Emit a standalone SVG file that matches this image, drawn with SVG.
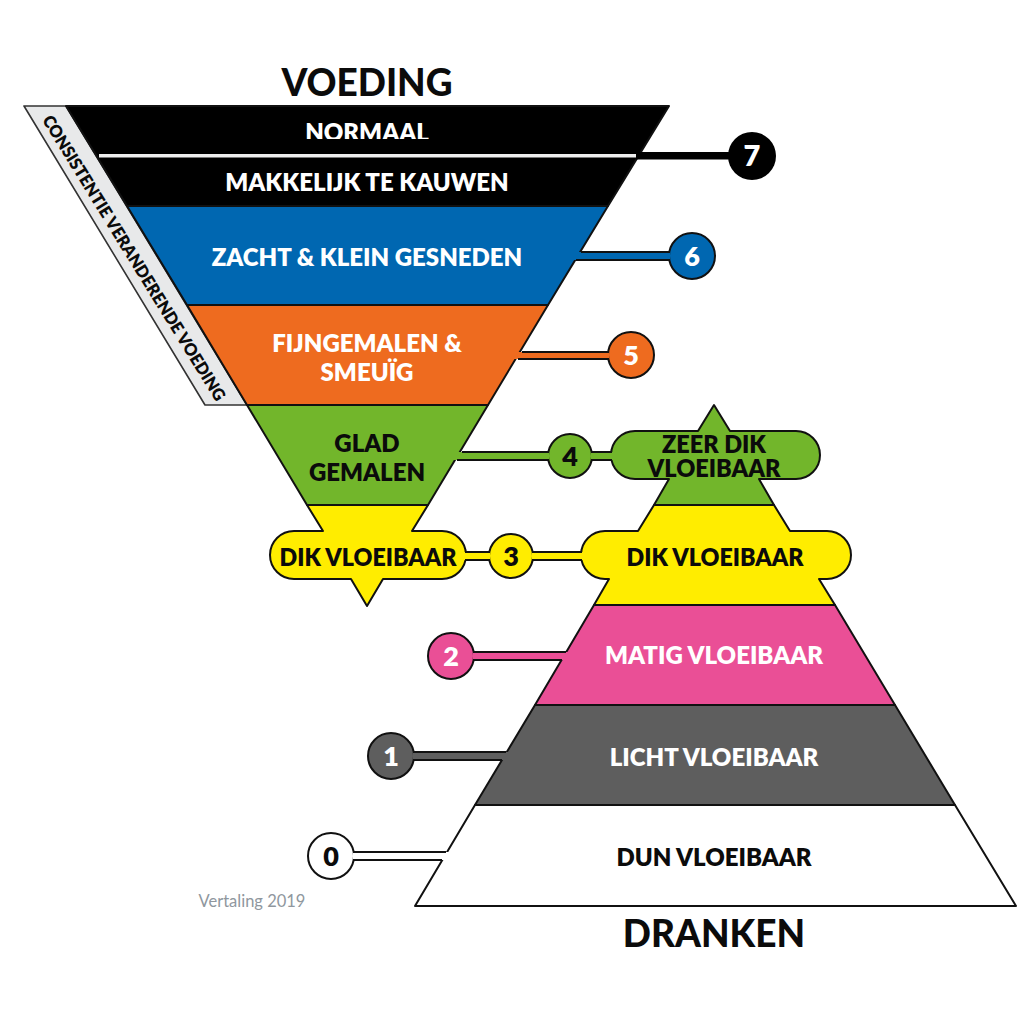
<svg xmlns="http://www.w3.org/2000/svg" width="1024" height="1024" viewBox="0 0 1024 1024">
<style>
text{font-family:Lato,"Noto Sans","Liberation Sans",sans-serif;font-weight:800;text-anchor:middle}
.s{stroke:#111;stroke-width:2;stroke-linejoin:round}
.w{fill:#fff}.k{fill:#0b0b0b}
.t{font-size:24px}
.n{font-size:24px}
.h{font-size:37px;font-weight:900;fill:#0b0b0b}
.c{stroke:#111;stroke-width:2;fill:none}
.blk{fill:#000}.blu{fill:#0067b1}.org{fill:#ee6b1f}.grn{fill:#72b62b}.yel{fill:#ffed00}.pnk{fill:#ea4f96}.gry{fill:#5e5e5e}.wht{fill:#fff}
</style>
<defs><clipPath id="cut"><rect x="250" y="110" width="240" height="29"/></clipPath></defs>
<rect width="1024" height="1024" fill="#fff"/>
<g id="titles">
<text class="h" x="367" y="96">VOEDING</text>
<text class="h" x="714" y="947">DRANKEN</text>
<text x="252" y="907" style="font-size:16.5px;font-weight:400;fill:#8f979e">Vertaling 2019</text>
</g>
<g id="band">
<polygon points="24,106 66,106 247,405 205,405" fill="#e8e9ea" stroke="#333" stroke-width="1.6" stroke-linejoin="round"/>
<text class="k" transform="translate(134,258) rotate(58.3)" y="6" style="font-size:17px" textLength="332" lengthAdjust="spacingAndGlyphs">CONSISTENTIE VERANDERENDE VOEDING</text>
</g>
<g id="level-7">
<polygon class="blk s" points="66,106 669,106 608,206 127,206" stroke="#000"/>
<rect x="99" y="154" width="537" height="3.5" fill="#eee"/>
<text class="w t" x="367" y="140.5" clip-path="url(#cut)">NORMAAL</text>
<text class="w t" x="367" y="191">MAKKELIJK TE KAUWEN</text>
</g>
<g id="level-6">
<polygon class="blu s" points="127,206 608,206 548,305 187,305"/>
<text class="w n" x="367" y="265.500">ZACHT &amp; KLEIN GESNEDEN</text>
</g>
<g id="level-5">
<polygon class="org s" points="187,305 548,305 488,405 247,405"/>
<text class="w t" x="367" y="351.500">FIJNGEMALEN &amp;</text>
<text class="w t" x="367" y="380.500">SMEUÏG</text>
</g>
<g id="level-4-food">
<polygon class="grn s" points="247,405 488,405 428,505 307,505"/>
<text class="k t" x="367" y="451.500">GLAD</text>
<text class="k t" x="367" y="480.500">GEMALEN</text>
</g>
<g id="level-3-food">
<path class="yel s" d="M307,505H428L412,531H442a24,24 0 0 1 24,24a24,24 0 0 1 -24,24H383L367,606L351,579H294a24,24 0 0 1 -24,-24a24,24 0 0 1 24,-24H323Z"/>
<text class="k t" x="368" y="565.500" textLength="177" lengthAdjust="spacingAndGlyphs">DIK VLOEIBAAR</text>
</g>
<g id="level-4-drink">
<path class="grn s" d="M714,405L730,431H796a24,24 0 0 1 24,24a24,24 0 0 1 -24,24H759L774,505H654L669,479H635a24,24 0 0 1 -24,-24a24,24 0 0 1 24,-24H698Z"/>
<text class="k" x="714" y="453" style="font-size:23.5px">ZEER DIK</text>
<text class="k" x="714" y="477" style="font-size:23.5px">VLOEIBAAR</text>
</g>
<g id="level-3-drink">
<path class="yel s" d="M654,505H774L790,531H827a24,24 0 0 1 24,24a24,24 0 0 1 -24,24H819L835,605H594L609,579H605a24,24 0 0 1 -24,-24a24,24 0 0 1 24,-24H638Z"/>
<text class="k t" x="715" y="565.500" textLength="177" lengthAdjust="spacingAndGlyphs">DIK VLOEIBAAR</text>
</g>
<g id="level-2">
<polygon class="pnk s" points="594,605 835,605 895,705 535,705"/>
<text class="w t" x="714" y="663.500">MATIG VLOEIBAAR</text>
</g>
<g id="level-1">
<polygon class="gry s" points="535,705 895,705 955,805 475,805"/>
<text class="w t" x="714" y="765.500">LICHT VLOEIBAAR</text>
</g>
<g id="level-0">
<polygon class="wht s" points="475,805 955,805 1016,906 415,906"/>
<text class="k t" x="714" y="865.500">DUN VLOEIBAAR</text>
</g>
<g id="badge-7"><circle class="blk" cx="752" cy="156" r="24"/><text class="w" x="752" y="166" style="font-size:29px">7</text></g>
<g id="badge-6"><circle class="blu s" cx="692" cy="256" r="23"/><text class="w" x="692" y="266" style="font-size:27px">6</text></g>
<g id="badge-5"><circle class="org s" cx="631" cy="355" r="23"/><text class="w" x="631" y="365" style="font-size:27px">5</text></g>
<g id="badge-4"><circle class="grn s" cx="570" cy="456" r="22"/><text class="k" x="570" y="466" style="font-size:27px">4</text></g>
<g id="badge-3"><circle class="yel s" cx="511" cy="556" r="22"/><text class="k" x="511" y="566" style="font-size:27px">3</text></g>
<g id="badge-2"><circle class="pnk s" cx="451" cy="656" r="23"/><text class="w" x="451" y="666" style="font-size:27px">2</text></g>
<g id="badge-1"><circle class="gry s" cx="391" cy="756" r="23"/><text class="w" x="391" y="766" style="font-size:27px">1</text></g>
<g id="badge-0"><circle class="wht s" cx="331" cy="856" r="23"/><text class="k" x="331" y="866" style="font-size:27px">0</text></g>
<g id="connectors">
<rect x="636" y="152" width="94" height="7.5" class="blk"/>
<rect x="572" y="252" width="98" height="8" class="blu"/><path class="c" d="M581,252H670M576,260H670"/>
<rect x="514" y="352" width="95" height="7" class="org"/><path class="c" d="M522,352H609M518,359H609"/>
<rect x="452" y="452" width="97" height="8" class="grn"/><path class="c" d="M462,452H549M457,460H549"/>
<rect x="591" y="452" width="22" height="8" class="grn"/><path class="c" d="M591,452H612M591,460H612"/>
<rect x="464" y="552" width="26" height="8" class="yel"/><path class="c" d="M465,552H490M465,560H490"/>
<rect x="532" y="552" width="52" height="8" class="yel"/><path class="c" d="M532,552H582M532,560H582"/>
<rect x="473" y="652" width="100" height="8" class="pnk"/><path class="c" d="M473,652H566M473,660H562"/>
<rect x="413" y="752" width="100" height="8" class="gry"/><path class="c" d="M413,752H506M413,760H502"/>
<rect x="353" y="852" width="100" height="8" class="wht"/><path class="c" d="M353,852H446M353,860H442"/>
</g>
</svg>
